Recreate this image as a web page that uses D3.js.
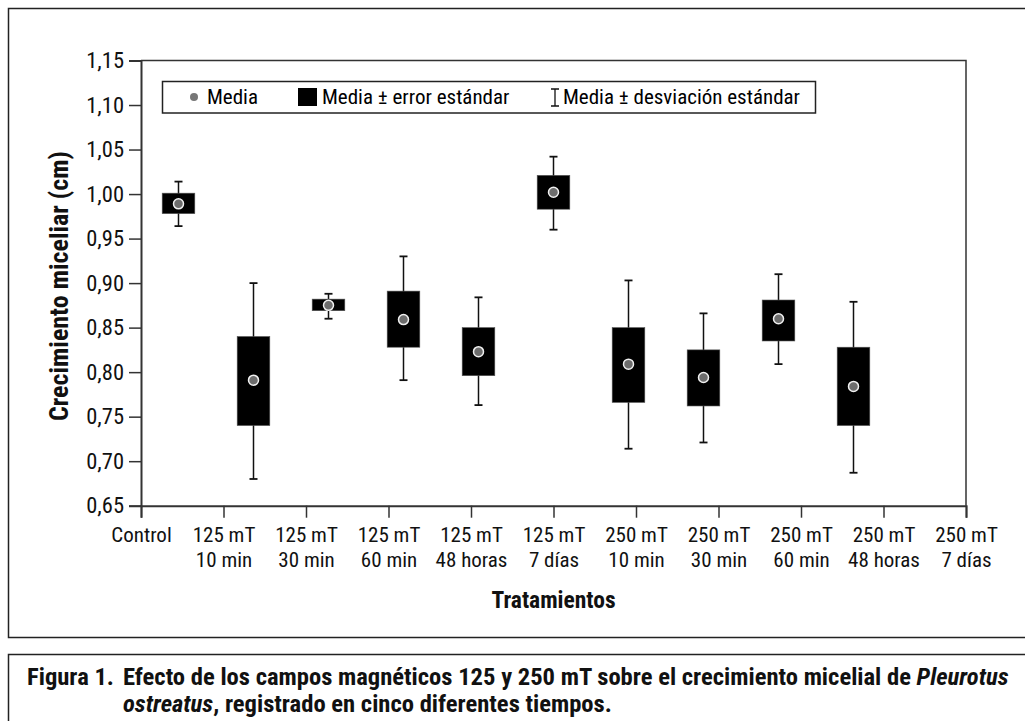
<!DOCTYPE html>
<html><head><meta charset="utf-8">
<script src="https://cdn.jsdelivr.net/npm/d3@7"></script>
<style>
body{margin:0;background:#fff;}
svg text{font-family:"Liberation Sans Narrow","Roboto Condensed","DejaVu Sans Condensed",sans-serif;}
</style></head>
<body><svg id="c" width="1025" height="721"></svg>
<script>
const categories = ["Control","125 mT|10 min","125 mT|30 min","125 mT|60 min","125 mT|48 horas","125 mT|7 días","250 mT|10 min","250 mT|30 min","250 mT|60 min","250 mT|48 horas","250 mT|7 días"];
const means   = [0.989,0.791,0.875,0.859,0.823,1.002,0.809,0.794,0.860,0.784,null];
const seLow   = [0.978,0.740,0.869,0.828,0.796,0.983,0.766,0.762,0.835,0.740,null];
const seHigh  = [1.001,0.840,0.882,0.891,0.850,1.021,0.850,0.825,0.881,0.828,null];
const sdLow   = [0.964,0.680,0.860,0.791,0.763,0.960,0.714,0.721,0.809,0.687,null];
const sdHigh  = [1.014,0.900,0.888,0.930,0.884,1.042,0.903,0.866,0.910,0.879,null];
const yTicks  = [0.65,0.70,0.75,0.80,0.85,0.90,0.95,1.00,1.05,1.10,1.15];

const svg = d3.select("#c");
const L=141, R=966, T=60.5, B=505.7;
const loc = d3.formatLocale({decimal:",",thousands:".",grouping:[3],currency:["",""]});
const fmt = loc.format(".2f");

// frames
svg.append("rect").attr("x",8.5).attr("y",8.5).attr("width",1030).attr("height",629).attr("fill","none").attr("stroke","#222").attr("stroke-width",1.5);
svg.append("rect").attr("x",8.5).attr("y",654.5).attr("width",1030).attr("height",80).attr("fill","none").attr("stroke","#222").attr("stroke-width",1.5);

const y = d3.scaleLinear().domain([0.65,1.15]).range([B,T]);
const xBand = d3.scaleBand().domain(categories).range([L,R]).paddingInner(0.565).paddingOuter(0.2825);
const xPt = d3.scalePoint().domain(categories).range([L,R]);

// plot frame (top and right)
svg.append("path").attr("d",`M${L},${T}H${R}V${B}`).attr("fill","none").attr("stroke","#333").attr("stroke-width",1.5);

const ya = svg.append("g").attr("transform",`translate(${L},0)`)
  .call(d3.axisLeft(y).tickValues(yTicks).tickFormat(fmt).tickSize(12).tickPadding(5));
ya.select(".domain").attr("stroke","#333").attr("stroke-width",2);
ya.selectAll(".tick line").attr("stroke","#333").attr("stroke-width",1.5);
ya.selectAll("text").attr("font-size",22.5).attr("fill","#111");

const xa = svg.append("g").attr("transform",`translate(0,${B})`)
  .call(d3.axisBottom(xPt).tickSize(12).tickFormat(""));
xa.select(".domain").attr("stroke","#333").attr("stroke-width",2);
xa.selectAll(".tick line").attr("stroke","#333").attr("stroke-width",1.5);
xa.selectAll(".tick").each(function(d){
  const parts = d.split("|");
  const t = d3.select(this).append("text").attr("fill","#111").attr("font-size",21).attr("text-anchor","middle");
  parts.forEach((p,i)=>t.append("tspan").attr("x",0).attr("y",i===0?36:61).text(p));
});

// data marks
const data = categories.map((c,i)=>({c,m:means[i],sl:seLow[i],sh:seHigh[i],dl:sdLow[i],dh:sdHigh[i]})).filter(d=>d.m!==null);
const g = svg.append("g");
const bw = xBand.bandwidth();
const cap = 8;
data.forEach(d=>{
  const cx = xBand(d.c)+bw/2;
  g.append("line").attr("x1",cx).attr("x2",cx).attr("y1",y(d.dh)).attr("y2",y(d.dl)).attr("stroke","#111").attr("stroke-width",1.5);
  [d.dh,d.dl].forEach(v=>g.append("line").attr("x1",cx-cap/2).attr("x2",cx+cap/2).attr("y1",y(v)).attr("y2",y(v)).attr("stroke","#111").attr("stroke-width",1.8));
  g.append("rect").attr("x",xBand(d.c)).attr("width",bw).attr("y",y(d.sh)).attr("height",y(d.sl)-y(d.sh)).attr("fill","#000").attr("stroke","#555").attr("stroke-width",0.6);
  g.append("circle").attr("cx",cx).attr("cy",y(d.m)).attr("r",5).attr("fill","#6d6d6d").attr("stroke","#f0f0f0").attr("stroke-width",1.5);
});

// legend
const lg = svg.append("g");
lg.append("rect").attr("x",162.5).attr("y",81.5).attr("width",653).attr("height",31.5).attr("fill","#fff").attr("stroke","#222").attr("stroke-width",1.5);
const ly = 97;
lg.append("circle").attr("cx",194).attr("cy",ly).attr("r",4).attr("fill","#777");
lg.append("text").attr("x",207).attr("y",ly).attr("dy","0.35em").attr("font-size",21).text("Media");
lg.append("rect").attr("x",298).attr("y",ly-9).attr("width",19).attr("height",18).attr("fill","#000");
lg.append("text").attr("x",322).attr("y",ly).attr("dy","0.35em").attr("font-size",21).text("Media ± error estándar");
lg.append("path").attr("d",`M${551},${ly-8}H${559}M${555},${ly-8}V${ly+9}M${551},${ly+9}H${559}`).attr("stroke","#111").attr("stroke-width",1.3).attr("fill","none");
lg.append("text").attr("x",563).attr("y",ly).attr("dy","0.35em").attr("font-size",21).text("Media ± desviación estándar");

// axis titles
svg.append("text").attr("transform",`translate(68,${(T+B)/2+3}) rotate(-90)`).attr("text-anchor","middle").attr("font-size",26).attr("font-weight","bold").attr("fill","#111").text("Crecimiento miceliar (cm)");
svg.append("text").attr("x",(L+R)/2).attr("y",608).attr("text-anchor","middle").attr("font-size",23.5).attr("font-weight","bold").attr("fill","#111").text("Tratamientos");

// caption (slightly horizontally stretched to match reference width)
const sx = 1.07, capFs = 23;
const cg = svg.append("g").attr("transform",`scale(${sx},1)`);
const l1 = cg.append("text").attr("font-size",capFs).attr("font-weight","bold").attr("fill","#111").attr("y",685);
l1.append("tspan").attr("x",27/sx).text("Figura 1.");
l1.append("tspan").attr("x",123/sx).text("Efecto de los campos magnéticos 125 y 250 mT sobre el crecimiento micelial de ");
l1.append("tspan").attr("font-style","italic").text("Pleurotus");
const l2 = cg.append("text").attr("font-size",capFs).attr("font-weight","bold").attr("fill","#111").attr("y",712);
l2.append("tspan").attr("x",123/sx).attr("font-style","italic").text("ostreatus");
l2.append("tspan").text(", registrado en cinco diferentes tiempos.");
</script></body></html>
